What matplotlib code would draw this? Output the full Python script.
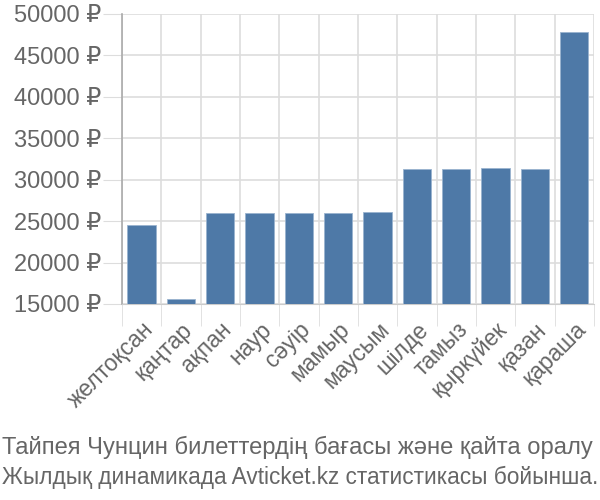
import matplotlib.pyplot as plt
import numpy as np

plt.rcParams['font.family'] = ['Liberation Sans', 'DejaVu Sans']

months = ["желтоқсан", "қаңтар", "ақпан", "наур", "сәуір", "мамыр",
          "маусым", "шілде", "тамыз", "қыркүйек", "қазан", "қараша"]
prices = [24500, 15600, 26000, 26000, 26000, 26000,
          26100, 31300, 31300, 31400, 31300, 47800]
yticks = [15000, 20000, 25000, 30000, 35000, 40000, 45000, 50000]

caption_lines = ["Тайпея Чунцин билеттердің бағасы және қайта оралу",
                 "Жылдық динамикада Avticket.kz статистикасы бойынша."]

fig = plt.figure(figsize=(6, 5), dpi=100)
ax = fig.add_axes([0.203, 0.392, 0.787, 0.58])

x = np.arange(len(months))
ax.bar(x, prices, width=0.72, color="#4e79a7", edgecolor="#9ab3cf",
       linewidth=0.6, zorder=3)

ax.set_ylim(15000, 50000)
ax.set_xlim(-0.5, len(months) - 0.5)
ax.set_yticks(yticks)
ax.set_yticklabels([f"{v} ₽" for v in yticks])
ax.set_xticks(x)
ax.set_xticklabels(months, rotation=45, ha="right", rotation_mode="anchor")
ax.set_xticks(np.arange(-0.5, len(months)), minor=True)

ax.tick_params(axis="y", length=14, color="#dddddd", labelsize=17,
               labelcolor="#666666", pad=1)
ax.tick_params(axis="x", which="major", length=0, labelsize=16.5,
               labelcolor="#666666", pad=10)
ax.tick_params(axis="x", which="minor", length=16, color="#dddddd")

ax.grid(axis="y", color="#dddddd", linewidth=1.2, zorder=0)
ax.grid(axis="x", which="minor", color="#dddddd", linewidth=1.2, zorder=0)

for s in ["top", "right"]:
    ax.spines[s].set_visible(False)
ax.spines["left"].set_color("#aaaaaa")
ax.spines["left"].set_linewidth(1.2)
ax.spines["bottom"].set_color("#cccccc")

# caption: two lines, each sized to span the full width like the reference
fig.text(0.004, 0.106, caption_lines[0], ha="left", va="center",
         fontsize=17.1, color="#666666")
fig.text(0.004, 0.046, caption_lines[1], ha="left", va="center",
         fontsize=16.3, color="#666666")

fig.savefig("out.png", dpi=100)
